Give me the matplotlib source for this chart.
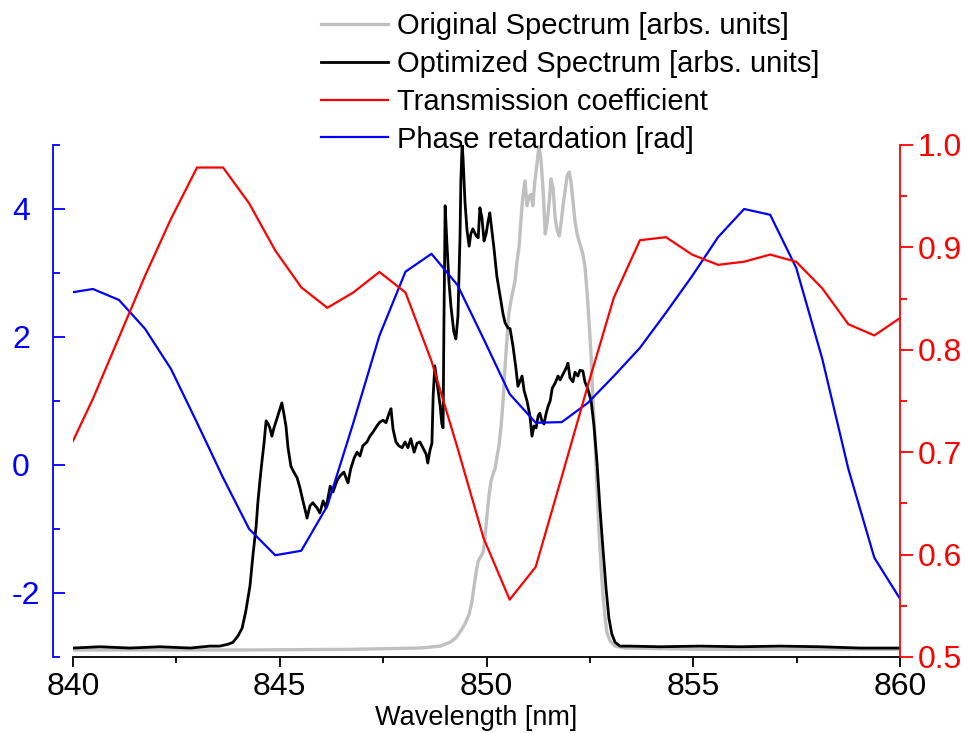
import matplotlib.pyplot as plt
from matplotlib.ticker import MultipleLocator

plt.rcParams['font.family'] = ['Liberation Sans', 'DejaVu Sans']
plt.rcParams['axes.unicode_minus'] = False

# original spectrum (grey), left axis units
orig_nm = [840.00, 841.86, 844.28, 846.70, 848.39, 848.88, 849.12, 849.26, 849.38, 849.48,
           849.58, 849.65, 849.70, 849.75, 849.80, 849.87, 849.92, 849.96, 850.01, 850.06,
           850.11, 850.16, 850.21, 850.25, 850.30, 850.35, 850.40, 850.45, 850.50, 850.54,
           850.59, 850.64, 850.69, 850.74, 850.79, 850.83, 850.88, 850.93, 850.98, 851.03,
           851.08, 851.12, 851.17, 851.22, 851.27, 851.32, 851.37, 851.42, 851.47, 851.52,
           851.56, 851.61, 851.66, 851.71, 851.76, 851.81, 851.85, 851.90, 851.95, 852.00,
           852.04, 852.09, 852.14, 852.19, 852.26, 852.33, 852.38, 852.43, 852.48, 852.53,
           852.57, 852.62, 852.67, 852.72, 852.77, 852.82, 852.87, 852.91, 852.99, 853.11,
           853.35, 855.16, 857.58, 860.00]
orig_val = [-2.89, -2.89, -2.89, -2.88, -2.86, -2.83, -2.77, -2.70, -2.59, -2.48,
            -2.33, -2.13, -1.89, -1.67, -1.50, -1.42, -1.36, -1.16, -0.80, -0.48,
            -0.25, -0.14, -0.05, 0.11, 0.30, 0.58, 1.00, 1.55, 2.02, 2.36,
            2.56, 2.72, 2.88, 3.19, 3.42, 3.81, 4.20, 4.44, 4.05, 4.20,
            4.23, 4.05, 4.44, 4.70, 5.00, 4.75, 4.28, 3.61, 3.81, 4.13,
            4.47, 4.33, 3.86, 3.66, 3.58, 3.81, 4.05, 4.28, 4.52, 4.58,
            4.44, 4.13, 3.81, 3.61, 3.45, 3.30, 3.11, 2.72, 2.25, 1.70,
            1.08, 0.45, -0.33, -1.03, -1.58, -2.05, -2.39, -2.61, -2.75, -2.83,
            -2.86, -2.88, -2.88, -2.88]

# optimized spectrum (black)
opt_nm = [840.00, 840.65, 841.38, 842.10, 842.83, 843.31, 843.55, 843.75, 843.87, 843.99,
          844.09, 844.18, 844.28, 844.35, 844.43, 844.47, 844.52, 844.57, 844.62, 844.67,
          844.72, 844.76, 844.81, 844.86, 844.93, 845.01, 845.05, 845.10, 845.15, 845.20,
          845.27, 845.34, 845.42, 845.49, 845.56, 845.61, 845.66, 845.73, 845.80, 845.90,
          845.97, 846.05, 846.12, 846.22, 846.29, 846.38, 846.46, 846.55, 846.65, 846.72,
          846.80, 846.87, 846.94, 847.01, 847.11, 847.18, 847.26, 847.35, 847.42, 847.50,
          847.57, 847.64, 847.69, 847.74, 847.81, 847.88, 847.96, 848.03, 848.10, 848.17,
          848.25, 848.32, 848.39, 848.46, 848.54, 848.58, 848.63, 848.68, 848.71, 848.75,
          848.80, 848.88, 848.92, 848.95, 848.97, 849.00, 849.04, 849.09, 849.14, 849.21,
          849.26, 849.31, 849.36, 849.38, 849.41, 849.43, 849.48, 849.53, 849.58, 849.62,
          849.67, 849.75, 849.80, 849.84, 849.89, 849.94, 849.99, 850.04, 850.08, 850.13,
          850.18, 850.25, 850.33, 850.40, 850.45, 850.52, 850.57, 850.64, 850.71, 850.76,
          850.81, 850.86, 850.91, 850.98, 851.05, 851.10, 851.15, 851.20, 851.25, 851.29,
          851.34, 851.39, 851.44, 851.49, 851.54, 851.59, 851.66, 851.73, 851.78, 851.85,
          851.93, 851.97, 852.02, 852.09, 852.14, 852.21, 852.26, 852.33, 852.38, 852.45,
          852.53, 852.60, 852.67, 852.74, 852.82, 852.89, 852.96, 853.03, 853.11, 853.23,
          853.47, 854.20, 855.16, 856.13, 857.10, 858.07, 859.03, 860.00]
opt_val = [-2.86, -2.84, -2.86, -2.84, -2.86, -2.83, -2.83, -2.80, -2.77, -2.67,
           -2.55, -2.28, -1.89, -1.42, -0.95, -0.59, -0.25, 0.06, 0.34, 0.69,
           0.64, 0.58, 0.45, 0.58, 0.72, 0.89, 0.97, 0.80, 0.61, 0.27,
           -0.02, -0.11, -0.20, -0.36, -0.56, -0.69, -0.83, -0.64, -0.59, -0.67,
           -0.75, -0.56, -0.67, -0.33, -0.42, -0.25, -0.17, -0.11, -0.28, -0.05,
           0.11, 0.20, 0.14, 0.30, 0.36, 0.45, 0.52, 0.61, 0.67, 0.70,
           0.66, 0.80, 0.88, 0.56, 0.36, 0.30, 0.27, 0.36, 0.27, 0.41,
           0.20, 0.34, 0.36, 0.27, 0.17, 0.03, 0.22, 0.34, 1.08, 1.55,
           1.31, 0.92, 0.64, 0.58, 2.17, 4.05, 3.50, 2.88, 2.48, 2.08,
           1.97, 2.33, 3.58, 4.44, 5.00, 4.83, 4.11, 3.66, 3.42, 3.61,
           3.69, 3.58, 3.55, 4.02, 3.86, 3.50, 3.61, 3.81, 3.94, 3.66,
           3.39, 2.95, 2.64, 2.36, 2.22, 2.14, 2.13, 1.86, 1.52, 1.23,
           1.31, 1.39, 1.16, 1.00, 0.77, 0.45, 0.61, 0.58, 0.77, 0.81,
           0.69, 0.64, 0.80, 0.92, 1.00, 1.20, 1.28, 1.39, 1.33, 1.42,
           1.52, 1.59, 1.36, 1.30, 1.45, 1.39, 1.48, 1.47, 1.30, 1.19,
           1.00, 0.61, 0.06, -0.64, -1.34, -1.92, -2.39, -2.64, -2.77, -2.83,
           -2.83, -2.84, -2.83, -2.84, -2.83, -2.84, -2.86, -2.86]

# transmission coefficient (right axis)
trans_nm = [840.00, 840.48, 841.11, 841.74, 842.37, 843.00, 843.63, 844.26, 844.89, 845.52,
            846.15, 846.78, 847.41, 848.04, 848.67, 849.30, 849.93, 850.56, 851.19, 851.82,
            852.45, 853.08, 853.71, 854.34, 854.97, 855.60, 856.23, 856.86, 857.49, 858.12,
            858.75, 859.38, 860.00]
trans_val = [0.711, 0.752, 0.812, 0.872, 0.928, 0.978, 0.978, 0.943, 0.897, 0.861,
             0.841, 0.856, 0.876, 0.856, 0.789, 0.704, 0.616, 0.556, 0.588, 0.676,
             0.765, 0.851, 0.907, 0.910, 0.893, 0.883, 0.886, 0.893, 0.886, 0.860,
             0.825, 0.814, 0.831]

# phase retardation (left axis)
phase_nm = trans_nm
phase_val = [2.70, 2.75, 2.58, 2.13, 1.50, 0.66, -0.20, -1.00, -1.41, -1.34,
             -0.64, 0.66, 2.02, 3.02, 3.30, 2.81, 1.97, 1.11, 0.66, 0.67,
             0.97, 1.39, 1.83, 2.38, 2.95, 3.56, 4.00, 3.91, 3.08, 1.66,
             -0.06, -1.45, -2.09]

W, H = 967, 733
fig = plt.figure(figsize=(W / 100, H / 100), dpi=100)
ax = fig.add_axes([73 / W, 76 / H, 827 / W, 512 / H])
ax2 = ax.twinx()

l1, = ax.plot(orig_nm, orig_val, color='#c0c0c0', lw=2.4, label='Original Spectrum [arbs. units]')
l2, = ax.plot(opt_nm, opt_val, color='black', lw=2.0, label='Optimized Spectrum [arbs. units]')
l4, = ax.plot(phase_nm, phase_val, color='#0000ff', lw=1.6, label='Phase retardation [rad]')
l3, = ax2.plot(trans_nm, trans_val, color='#ff0000', lw=1.6, label='Transmission coefficient')

ax.set_xlim(840, 860)
ax.set_ylim(-3, 5)
ax2.set_ylim(0.5, 1.0)

fs = 23
ax.xaxis.set_major_locator(MultipleLocator(5))
ax.xaxis.set_minor_locator(MultipleLocator(2.5))
ax.yaxis.set_major_locator(MultipleLocator(2))
ax.yaxis.set_minor_locator(MultipleLocator(1))
ax2.yaxis.set_major_locator(MultipleLocator(0.1))
ax2.yaxis.set_minor_locator(MultipleLocator(0.05))
ax2.set_yticks([0.5, 0.6, 0.7, 0.8, 0.9, 1.0], ['0.5', '0.6', '0.7', '0.8', '0.9', '1.0'])

ax.spines['top'].set_visible(False)
ax.spines['right'].set_visible(False)
ax.spines['left'].set_color('#0000ff')
ax.spines['left'].set_position(('outward', 14.4))
ax.spines['left'].set_linewidth(1.3)
ax.spines['bottom'].set_linewidth(1.3)
for s in ['top', 'left', 'bottom']:
    ax2.spines[s].set_visible(False)
ax2.spines['right'].set_color('#ff0000')
ax2.spines['right'].set_linewidth(1.3)

ax.tick_params(axis='x', which='both', direction='out', top=False, labelsize=fs, pad=3, width=1.3)
ax.tick_params(axis='x', which='major', length=7.5)
ax.tick_params(axis='x', which='minor', length=4.5)
ax.tick_params(axis='y', which='both', direction='in', colors='#0000ff', labelsize=fs,
               pad=29.5, width=1.3, right=False)
ax.tick_params(axis='y', which='major', length=8.5)
ax.tick_params(axis='y', which='minor', length=5)
for t in ax.get_yticklabels():
    t.set_horizontalalignment('left')
ax2.tick_params(axis='y', which='both', direction='out', colors='#ff0000', labelsize=fs,
                pad=4, width=1.3)
ax2.tick_params(axis='y', which='major', length=9)
ax2.tick_params(axis='y', which='minor', length=5)

ax.set_xlabel('Wavelength [nm]', fontsize=19.5)
ax.xaxis.set_label_coords(0.488, -0.093)

fig.legend([l1, l2, l3, l4], [l.get_label() for l in (l1, l2, l3, l4)],
           loc='upper left', bbox_to_anchor=(318 / W, 1 - 9 / H), frameon=False,
           fontsize=21, handlelength=2.3, handletextpad=0.3, labelspacing=0.34,
           borderaxespad=0, borderpad=0.1)

fig.savefig('out.png', dpi=100)
